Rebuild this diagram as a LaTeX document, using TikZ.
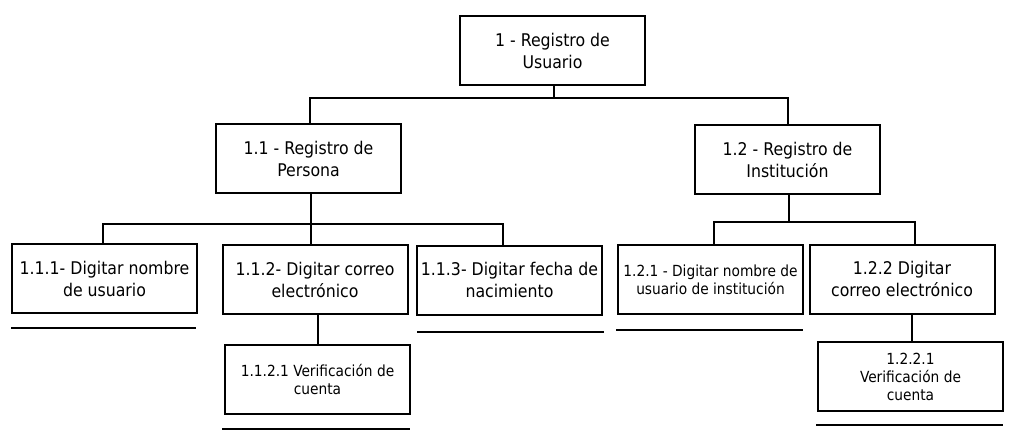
\documentclass[tikz,border=0pt]{standalone}
\usepackage{fontspec}
\setmainfont{DejaVu Sans Condensed}
\usetikzlibrary{calc}
\begin{document}
\begin{tikzpicture}[x=1pt,y=-1pt,
  box/.style={draw=black,line width=2pt,fill=white,minimum width=185pt,minimum height=69pt,inner sep=0pt,align=center},
  big/.style={font=\fontsize{17.5}{22}\selectfont},
  small/.style={font=\fontsize{15.3}{18}\selectfont},
  conn/.style={line width=2pt,line cap=rect},
  uline/.style={line width=2pt}]
\useasboundingbox[fill=white] (0,0) rectangle (1023,441);
% nodes
\node[box,big]   (root)  at (552.5,50.5) {1 - Registro de\\Usuario};
\node[box,big]   (n11)   at (308.5,158.5) {1.1 - Registro de\\Persona};
\node[box,big]   (n12)   at (787.5,159.5) {1.2 - Registro de\\Institución};
\node[box,big]   (n111)  at (104.5,278.5) {1.1.1- Digitar nombre\\de usuario};
\node[box,big]   (n112)  at (315,279.5) {1.1.2- Digitar correo\\electrónico};
\node[box,big]   (n113)  at (509.5,280) {1.1.3- Digitar fecha de\\nacimiento};
\node[box,small] (n1121) at (317.5,379) {1.1.2.1 Verificación de\\cuenta};
\node[box,small] (n121)  at (710.5,279.5) {1.2.1 - Digitar nombre de\\usuario de institución};
\node[box,big]   (n122)  at (902,279) {1.2.2 Digitar\\correo electrónico};
\node[box,small] (n1221) at (910.5,376.5) {1.2.2.1\\Verificación de\\cuenta};
% bus points
\coordinate (b0) at (554,98);
\coordinate (b1) at (311,224);
\coordinate (b2) at (789,222);
% connectors
\draw[conn] (root.south -| b0) -- (b0);
\draw[conn] ([xshift=1.5]n11.north) |- (b0) -| (n12.north);
\draw[conn] (n11.south -| b1) -- (b1);
\draw[conn] ([xshift=-1.5]n111.north) |- (b1) -| ([xshift=-6.5]n113.north);
\draw[conn] (n112.north -| b1) -- (b1);
\draw[conn] (n12.south -| b2) -- (b2);
\draw[conn] ([xshift=3.5]n121.north) |- (b2) -| ([xshift=13]n122.north);
\draw[conn] ([xshift=3]n112.south) -- ([xshift=3]n112.south |- n1121.north);
\draw[conn] ([xshift=10]n122.south) -- ([xshift=10]n122.south |- n1221.north);
% underlines
\draw[uline] ($(n111.south west)+(0,14)$) -- ($(n111.south east)+(-2,14)$);
\draw[uline] ($(n1121.south west)+(-2,14)$) -- ($(n1121.south east)+(-1,14)$);
\draw[uline] ($(n113.south west)+(1,16)$) -- ($(n113.south east)+(1,16)$);
\draw[uline] ($(n121.south west)+(-1,15)$) -- ($(n121.south east)+(-1,15)$);
\draw[uline] ($(n1221.south west)+(-1,13)$) -- ($(n1221.south east)+(-1,13)$);
\end{tikzpicture}
\end{document}
